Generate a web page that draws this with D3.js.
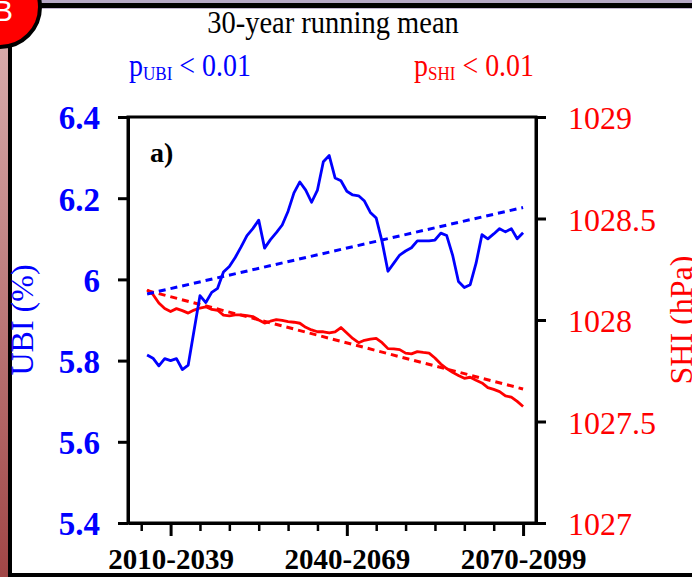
<!DOCTYPE html>
<html><head><meta charset="utf-8">
<script src="https://cdn.jsdelivr.net/npm/d3@7"></script>
<style>html,body{margin:0;padding:0;background:#fff;overflow:hidden;} svg{display:block;}</style>
</head><body>
<svg id="c" width="692" height="577"></svg>
<script>
// ---- data ----
const startYear = 2006;   // first 30-year window 2006-2035
const endYear = 2070;     // last 30-year window 2070-2099
const ubi = [5.814,5.806,5.787,5.805,5.800,5.805,5.778,5.789,5.875,5.960,
             5.943,5.968,5.978,6.018,6.032,6.054,6.080,6.108,6.125,6.146,
             6.077,6.098,6.115,6.134,6.168,6.213,6.240,6.220,6.190,6.220,
             6.290,6.305,6.250,6.243,6.217,6.208,6.206,6.193,6.165,6.151,
             6.093,6.020,6.040,6.060,6.070,6.078,6.095,6.095,6.095,6.097,
             6.114,6.108,6.060,5.995,5.980,5.987,6.040,6.110,6.100,6.112,
             6.125,6.117,6.125,6.100,6.115];
const shi = [1028.148,1028.126,1028.084,1028.057,1028.042,1028.056,1028.046,1028.034,1028.049,1028.059,
             1028.065,1028.052,1028.048,1028.024,1028.020,1028.025,1028.025,1028.022,1028.017,1028.000,
             1027.985,1027.994,1028.002,1027.998,1027.992,1027.989,1027.984,1027.964,1027.951,1027.942,
             1027.942,1027.936,1027.941,1027.963,1027.936,1027.909,1027.888,1027.900,1027.906,1027.909,
             1027.888,1027.859,1027.858,1027.854,1027.837,1027.833,1027.844,1027.840,1027.837,1027.813,
             1027.783,1027.761,1027.742,1027.727,1027.713,1027.718,1027.703,1027.690,1027.667,1027.658,
             1027.647,1027.626,1027.620,1027.599,1027.574];
const ubiTrend = [5.964, 6.177];        // dashed linear trend, at startYear / endYear
const shiTrend = [1028.145, 1027.660];
const xMajorYears = [2010, 2040, 2070];
const xMajorLabels = ["2010-2039", "2040-2069", "2070-2099"];
const xMinorYears = [2005,2015,2020,2025,2030,2035,2045,2050,2055,2060,2065];
const ubiTicks = [5.4, 5.6, 5.8, 6, 6.2, 6.4];
const shiTicks = [1027, 1027.5, 1028, 1028.5, 1029];
const title = "30-year running mean";

// ---- layout ----
const years = d3.range(startYear, endYear + 1);
const L = 128, R = 536, T = 117, B = 523;
const BLUE = "#0000ff", RED = "#ff0000";
const serif = "'Liberation Serif','Times New Roman',serif";

const svg = d3.select("#c");

// decorative panel frame
const grad = svg.append("defs").append("linearGradient").attr("id","lg")
  .attr("x1",0).attr("y1",0).attr("x2",0).attr("y2",1);
grad.append("stop").attr("offset","0").attr("stop-color","#dcb4b4");
grad.append("stop").attr("offset","1").attr("stop-color","#a04646");
svg.append("rect").attr("x",0).attr("y",0).attr("width",8).attr("height",577).attr("fill","url(#lg)");
svg.append("rect").attr("x",0).attr("y",0).attr("width",692).attr("height",3).attr("fill","#b6a8c6");
svg.append("rect").attr("x",0).attr("y",3).attr("width",692).attr("height",5).attr("fill","#000");
svg.append("rect").attr("x",0).attr("y",8).attr("width",692).attr("height",1).attr("fill","#c4b6d2");
svg.append("rect").attr("x",8).attr("y",3).attr("width",4).attr("height",574).attr("fill","#000");
svg.append("rect").attr("x",8).attr("y",573).attr("width",684).attr("height",4).attr("fill","#000");
svg.append("circle").attr("cx",0).attr("cy",7).attr("r",40).attr("fill","#ff0000").attr("stroke","#000").attr("stroke-width",4);
svg.append("text").attr("x",13).attr("y",21).attr("text-anchor","end")
  .attr("font-family","'Liberation Sans',Arial,sans-serif").attr("font-size",30).attr("fill","#fff").text("B");

// scales
const x = d3.scaleLinear().domain([2002.75, 2072.2]).range([L, R]);
const yL = d3.scaleLinear().domain([5.4, 6.4]).range([B, T]);
const yR = d3.scaleLinear().domain([1027, 1029]).range([B, T]);

// lines
const g = svg.append("g");
const lineL = d3.line().x((d,i)=>x(years[i])).y(d=>yL(d));
const lineR = d3.line().x((d,i)=>x(years[i])).y(d=>yR(d));
const trendYears = [startYear, endYear];

g.append("path").datum(shiTrend)
  .attr("d", d3.line().x((d,i)=>x(trendYears[i])).y(d=>yR(d)))
  .attr("fill","none").attr("stroke",RED).attr("stroke-width",3).attr("stroke-dasharray","7,5");
g.append("path").datum(shi).attr("d", lineR)
  .attr("fill","none").attr("stroke",RED).attr("stroke-width",2.8).attr("stroke-linejoin","round");
g.append("path").datum(ubiTrend)
  .attr("d", d3.line().x((d,i)=>x(trendYears[i])).y(d=>yL(d)))
  .attr("fill","none").attr("stroke",BLUE).attr("stroke-width",3).attr("stroke-dasharray","7,5");
g.append("path").datum(ubi).attr("d", lineL)
  .attr("fill","none").attr("stroke",BLUE).attr("stroke-width",2.8).attr("stroke-linejoin","round");

// frame
svg.append("rect").attr("x",L).attr("y",T).attr("width",R-L).attr("height",B-T)
  .attr("fill","none").attr("stroke","#000").attr("stroke-width",3);

// left axis
const axL = svg.append("g").attr("transform",`translate(${L},0)`)
  .call(d3.axisLeft(yL).tickValues(ubiTicks).tickFormat(d=>String(d)).tickSize(10).tickSizeOuter(0).tickPadding(18));
axL.select(".domain").attr("stroke","#000").attr("stroke-width",3);
axL.selectAll(".tick line").attr("stroke","#000").attr("stroke-width",3);
axL.selectAll(".tick text").attr("fill",BLUE).attr("font-family",serif).attr("font-size",33).attr("font-weight","bold").attr("dy","0.36em");

// right axis
const axR = svg.append("g").attr("transform",`translate(${R},0)`)
  .call(d3.axisRight(yR).tickValues(shiTicks).tickFormat(d=>String(d)).tickSize(10).tickSizeOuter(0).tickPadding(22));
axR.select(".domain").attr("stroke","#000").attr("stroke-width",3);
axR.selectAll(".tick line").attr("stroke","#000").attr("stroke-width",3);
axR.selectAll(".tick text").attr("fill",RED).attr("font-family",serif).attr("font-size",32).attr("dy","0.36em");

// bottom axis: minor ticks
const axBm = svg.append("g").attr("transform",`translate(0,${B})`)
  .call(d3.axisBottom(x).tickValues(xMinorYears).tickFormat("").tickSize(8).tickSizeOuter(0));
axBm.select(".domain").remove();
axBm.selectAll(".tick line").attr("stroke","#000").attr("stroke-width",2.5);
// major ticks + labels
const axB = svg.append("g").attr("transform",`translate(0,${B})`)
  .call(d3.axisBottom(x).tickValues(xMajorYears).tickFormat((d,i)=>xMajorLabels[i]).tickSize(13).tickSizeOuter(0).tickPadding(12));
axB.select(".domain").attr("stroke","#000").attr("stroke-width",3);
axB.selectAll(".tick line").attr("stroke","#000").attr("stroke-width",3);
axB.selectAll(".tick text").attr("fill","#000").attr("font-family",serif).attr("font-size",29).attr("font-weight","bold");

// axis titles
svg.append("text").attr("transform","translate(33,320) rotate(-90)").attr("text-anchor","middle")
  .attr("font-family",serif).attr("font-size",32).attr("fill",BLUE).text("UBI (%)");
svg.append("text").attr("transform","translate(692,320) rotate(-90)").attr("text-anchor","middle")
  .attr("font-family",serif).attr("font-size",32).attr("fill",RED).text("SHI (hPa)");

// title
svg.append("text").attr("transform","translate(333,33) scale(0.92,1)").attr("text-anchor","middle")
  .attr("font-family",serif).attr("font-size",31).attr("fill","#000").text(title);

// p-value annotations
function pLabel(x0, sub, color){
  const t = svg.append("text").attr("transform",`translate(${x0},76) scale(0.9,1)`)
    .attr("font-family",serif).attr("fill",color);
  t.append("tspan").attr("font-size",31).text("p");
  t.append("tspan").attr("font-size",19).attr("dy",4).text(sub);
  t.append("tspan").attr("font-size",31).attr("dy",-4).text(" < 0.01");
}
pLabel(129, "UBI", BLUE);
pLabel(414, "SHI", RED);

// panel label
svg.append("text").attr("x",150).attr("y",162).attr("font-family",serif).attr("font-size",28)
  .attr("font-weight","bold").attr("fill","#000").text("a)");
</script>
</body></html>
